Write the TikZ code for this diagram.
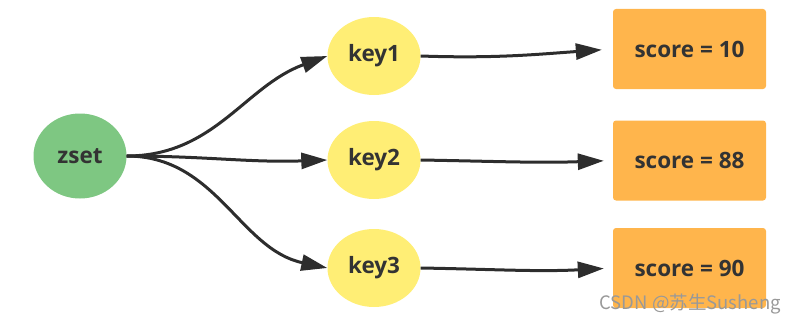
\documentclass[tikz,border=0pt]{standalone}
\usepackage{fontspec}
\setmainfont{Open Sans}
\newfontfamily\cjk{Noto Sans CJK SC}
\usetikzlibrary{arrows.meta,shapes.geometric}
\definecolor{setgreen}{RGB}{126,199,130}
\definecolor{keyyellow}{RGB}{255,238,117}
\definecolor{scoreorange}{RGB}{255,181,76}
\definecolor{txtdark}{RGB}{51,51,51}
\definecolor{linedark}{RGB}{45,45,45}

\begin{document}
\begin{tikzpicture}[x=1pt,y=-1pt,>={Triangle[length=26pt,width=16pt]},
  setnode/.style={ellipse,fill=setgreen,minimum width=93pt,minimum height=85pt,inner sep=0pt},
  keynode/.style={ellipse,fill=keyyellow,minimum width=93pt,minimum height=78pt,inner sep=0pt},
  scorebox/.style={rectangle,rounded corners=3pt,fill=scoreorange,minimum width=153pt,minimum height=80pt},
  link/.style={->,line width=3pt,draw=linedark}]
\useasboundingbox (0,0) rectangle (797,321);
\begin{scope}[font=\fontsize{22.5}{26}\selectfont\bfseries,text=txtdark]
\node[setnode] (zset) at (80,156) {zset};
\node[keynode] (k1) at (374,56) {key1};
\node[keynode] (k2) at (374,160) {key2};
\node[keynode] (k3) at (374,268) {key3};
\node[scorebox] (s1) at (689.5,49) {score = 10};
\node[scorebox] (s2) at (689.5,160.5) {score = 88};
\node[scorebox] (s3) at (689.5,268) {score = 90};
\end{scope}
% zset -> keys
\draw[link] (zset.east) to[out=0,in=200] (k1.west);
\draw[link] (zset.east) to[out=0,in=182] (k2.west);
\draw[link] (zset.east) to[out=0,in=168] (k3.west);
% keys -> scores
\draw[link,shorten >=11pt] (k1.east) to[out=-2,in=184] (s1.west);
\draw[link,shorten >=9pt] (k2.east) to[out=-1,in=182] (s2.west);
\draw[link,shorten >=9pt] (k3.east) to[out=-1,in=183] (s3.west);
\node[anchor=south east,inner sep=0pt,text=black!40,font=\cjk\fontsize{18.5}{21}\selectfont] (wm) at (781,314) {CSDN @苏生Susheng};
\end{tikzpicture}
\end{document}
